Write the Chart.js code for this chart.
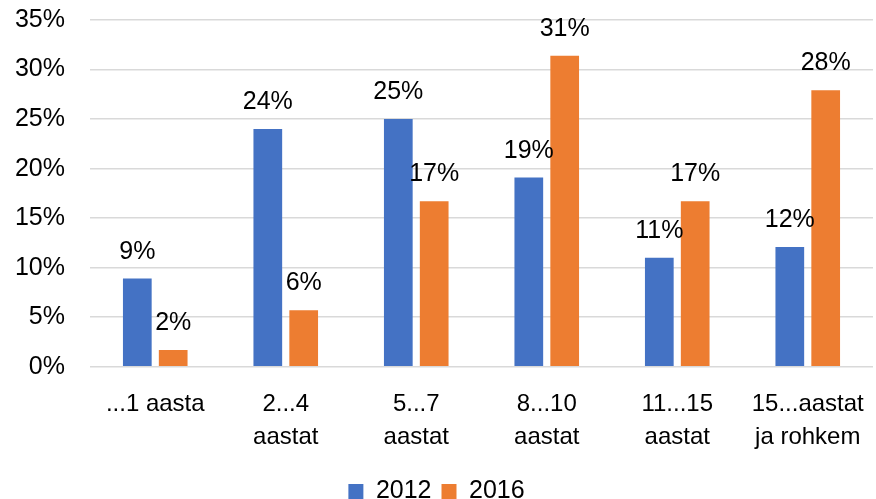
<!DOCTYPE html>
<html lang="en">
<head>
  <meta charset="UTF-8" />
  <title>Staaž 2012 vs 2016</title>
  <script src="https://cdn.jsdelivr.net/npm/chart.js"></script>
<style>
  * { margin: 0; padding: 0; box-sizing: border-box; }
  body { background: #ffffff; width: 876px; height: 499px; overflow: hidden; }
</style>
</head>
<body>
  <canvas id="barChart" width="876" height="499"></canvas>

  <script>
  // data (percent)
  const categories = [
    '...1 aasta',
    ['2...4', 'aastat'],
    ['5...7', 'aastat'],
    ['8...10', 'aastat'],
    ['11...15', 'aastat'],
    ['15...aastat', 'ja rohkem']
  ];
  const seriesNames = ['2012', '2016'];
  const values2012 = [8.9, 24.0, 25.0, 19.1, 11.0, 12.1];
  const values2016 = [1.7, 5.7, 16.7, 31.4, 16.7, 27.9];
  const yTicks = [0, 5, 10, 15, 20, 25, 30, 35];

  const font = "'Liberation Sans', Arial, sans-serif";

  // small inline plugin for the value labels above each bar
  const valueLabels = {
    id: 'valueLabels',
    afterDatasetsDraw(chart) {
      const ctx = chart.ctx;
      ctx.save();
      ctx.font = '25px ' + font;
      ctx.fillStyle = '#000000';
      ctx.textAlign = 'center';
      ctx.textBaseline = 'alphabetic';
      chart.data.datasets.forEach((ds, i) => {
        chart.getDatasetMeta(i).data.forEach((bar, j) => {
          ctx.fillText(Math.round(ds.data[j]) + '%', bar.x, bar.y - 20);
        });
      });
      ctx.restore();
    }
  };

  new Chart(document.getElementById('barChart'), {
    type: 'bar',
    data: {
      labels: categories,
      datasets: [
        { label: seriesNames[0], data: values2012, backgroundColor: '#4472C4' },
        { label: seriesNames[1], data: values2016, backgroundColor: '#ED7D31' }
      ]
    },
    options: {
      responsive: false,
      animation: false,
      devicePixelRatio: 1,
      layout: { padding: { top: 20, right: 3, left: 0, bottom: -15 } },
      datasets: { bar: { categoryPercentage: 0.55, barPercentage: 0.8 } },
      plugins: {
        legend: {
          position: 'bottom',
          labels: {
            color: '#000000',
            font: { family: font, size: 25 },
            boxWidth: 15,
            boxHeight: 15,
            padding: 10
          }
        },
        tooltip: { enabled: false }
      },
      scales: {
        x: {
          grid: { display: false, drawTicks: false },
          border: { display: false },
          afterFit(axis) { axis.paddingLeft = 0; axis.paddingRight = 0; axis.height -= 6; },
          ticks: {
            color: '#000000',
            font: { family: font, size: 24, lineHeight: 1.38 },
            maxRotation: 0,
            autoSkip: false,
            padding: 21
          }
        },
        y: {
          min: 0,
          max: 35,
          afterBuildTicks(axis) { axis.ticks = yTicks.map(v => ({ value: v })); },
          afterFit(axis) { axis.width = 90; axis.paddingTop = 0; axis.paddingBottom = 0; },
          grid: { color: '#d9d9d9', lineWidth: 1.5, drawTicks: false },
          border: { display: false },
          ticks: {
            color: '#000000',
            font: { family: font, size: 25 },
            padding: 25,
            callback: v => v + '%'
          }
        }
      }
    },
    plugins: [valueLabels]
  });
</script>
</body>
</html>
